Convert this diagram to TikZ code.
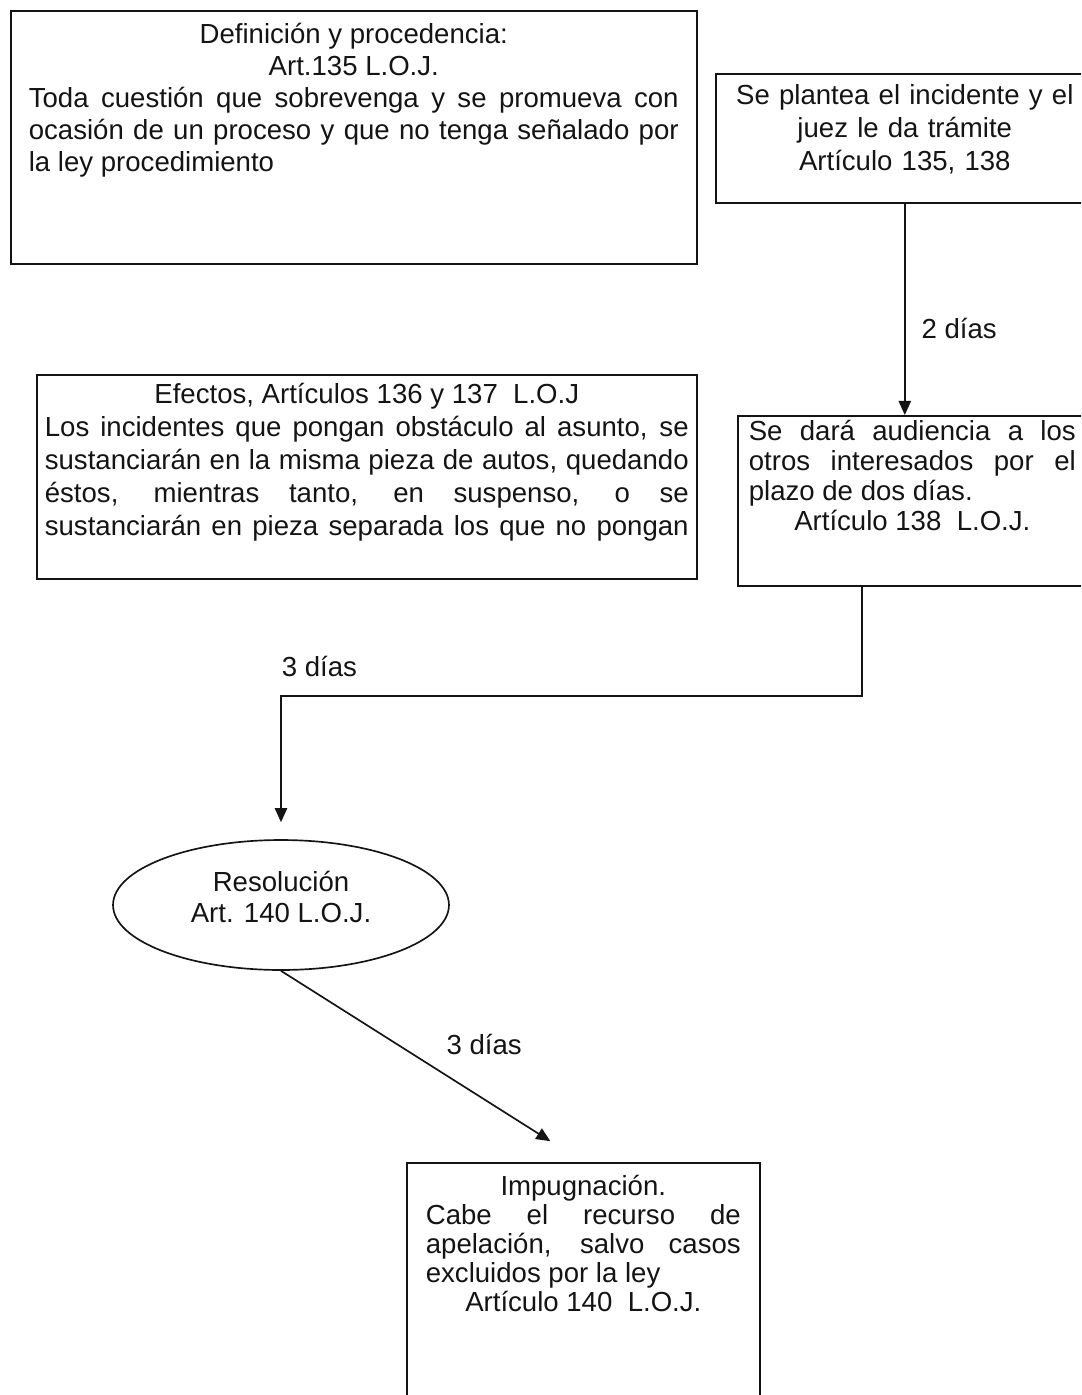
\documentclass[tikz,border=0pt]{standalone}
\usepackage{fontspec}
\setmainfont{Liberation Sans}
\usetikzlibrary{arrows.meta, shapes.geometric, calc}
\definecolor{ink}{HTML}{141414}
\newcommand{\boxfont}[1][17.6]{\fontsize{15.7pt}{#1pt}\selectfont
  \tolerance=10000 \hyphenpenalty=10000 }
\newcommand{\midline}[1]{\hbox to\linewidth{\hfil#1\hfil}\par}

\begin{document}
\begin{tikzpicture}[x=0.02cm, y=-0.02cm, color=ink,
    panel/.style={draw=ink, line width=0.95pt, rectangle, anchor=north west,
                  inner ysep=0pt, align=justify},
    flow/.style={draw=ink, line width=0.95pt, -{Triangle[length=8pt, width=7pt]}},
    tag/.style={font=\boxfont, inner sep=0pt}]
  \useasboundingbox (0,0) rectangle (1081,1395);
  \clip (0,0) rectangle (1081,1395);
  % boxes
  \node[panel, font={\boxfont[18.2]}, inner xsep=0.36cm, text width=13cm,
        text height=0.66cm, text depth=4.4cm] (dp) at (10,10)
    {\midline{Definición y procedencia:}\midline{Art.135 L.O.J.}\noindent Toda cuestión que sobrevenga y se promueva con\linebreak ocasión de un proceso y que no tenga señalado por\linebreak la ley procedimiento};
  \node[panel, align=center, font={\boxfont[18.8]}, inner xsep=0.38cm, text width=6.8cm,
        text height=0.62cm, text depth=1.96cm] (pl) at (715,73)
    {Se plantea el incidente y el\\ juez le da trámite\\ Artículo 135, 138};
  \node[panel, font={\boxfont[18.8]}, inner xsep=0.16cm, text width=12.88cm,
        text height=0.58cm, text depth=3.5cm] (ef) at (36,374)
    {\midline{Efectos, Artículos 136 y 137~ L.O.J}\noindent\parfillskip=0pt Los incidentes que pongan obstáculo al asunto, se\linebreak sustanciarán en la misma pieza de autos, quedando\linebreak éstos, mientras tanto, en suspenso, o se\linebreak sustanciarán en pieza separada los que no pongan\par};
  \node[panel, font={\boxfont[17.1]}, inner xsep=0.22cm, text width=6.54cm,
        text height=0.5cm, text depth=2.9cm] (au) at (737,415)
    {Se dará audiencia a los\linebreak otros interesados por el\linebreak plazo de dos días.\par\midline{Artículo 138~ L.O.J.}};
  \node[draw=ink, line width=0.95pt, ellipse, minimum width=6.72cm, minimum height=2.6cm,
        inner sep=0pt, align=center, text depth=9.5pt, font={\boxfont[17.6]}] (re) at (281,905)
    {Resolución\\ Art. 140 L.O.J.};
  \node[panel, font={\boxfont[16.5]}, inner xsep=0.38cm, text width=6.3cm,
        text height=0.66cm, text depth=8cm] (im) at (406,1162)
    {\midline{Impugnación.}\noindent Cabe el recurso de\linebreak apelación, salvo casos\linebreak excluidos por la ley\par\midline{Artículo 140~ L.O.J.}};
  % connectors
  \coordinate (turn) at (862,696);
  \draw[flow] (pl.south) -- node[tag, pos=0.59, anchor=west, xshift=0.32cm] {2 días}
    (pl.south |- au.north);
  \draw[flow, shorten >=0.34cm] (au.south -| turn) -- (turn)
    -| node[tag, pos=0.5, anchor=south west, yshift=0.36cm] {3 días} (re.north);
  \draw[flow, shorten >=0.78cm] (re.south)
    -- node[tag, pos=0.545, anchor=south west, yshift=0.39cm] {3 días} (im.north);
\end{tikzpicture}
\end{document}
